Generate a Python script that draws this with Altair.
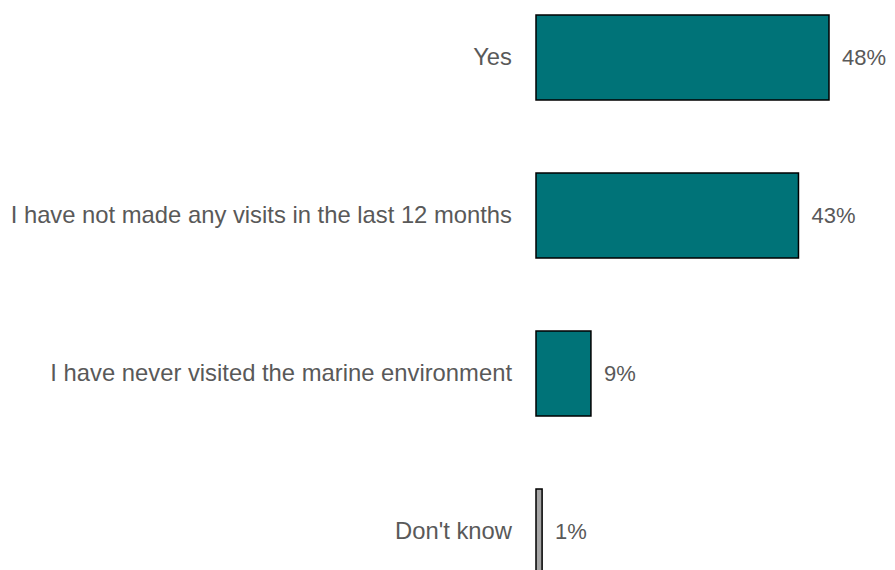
import altair as alt
import pandas as pd

categories = ["Yes", "I have not made any visits in the last 12 months",
              "I have never visited the marine environment", "Don't know"]
values = [48, 43, 9, 1]
labels = ["48%", "43%", "9%", "1%"]
colors = ["#007378", "#007378", "#007378", "#a6a6a6"]

df = pd.DataFrame({"cat": categories, "val": values, "lab": labels, "col": colors})

y = alt.Y("cat:N", sort=categories, axis=None,
          scale=alt.Scale(range=[-29.5, 602.5], paddingInner=0.462, paddingOuter=0.231))
x = alt.X("val:Q", axis=None, scale=alt.Scale(domain=[0, 48], range=[528, 821]))

bars = alt.Chart(df).mark_bar(stroke="black", strokeWidth=1.5).encode(
    x=x, y=y, color=alt.Color("col:N", scale=None)
)
pct = alt.Chart(df).mark_text(align="left", baseline="middle", dx=13, fontSize=22,
                              font="Liberation Sans", color="#595959").encode(
    x=x, y=y, text="lab:N"
)
cats = alt.Chart(df).mark_text(align="right", baseline="middle", fontSize=23.8,
                               font="Liberation Sans", color="#595959").encode(
    x=alt.value(504), y=y, text="cat:N"
)

chart = alt.layer(bars, pct, cats).properties(
    width=879, height=562, padding=0,
    autosize=alt.AutoSizeParams(type="none")
).configure_view(stroke=None)

chart.save("out.html", embed_options={"renderer": "svg", "actions": False})
